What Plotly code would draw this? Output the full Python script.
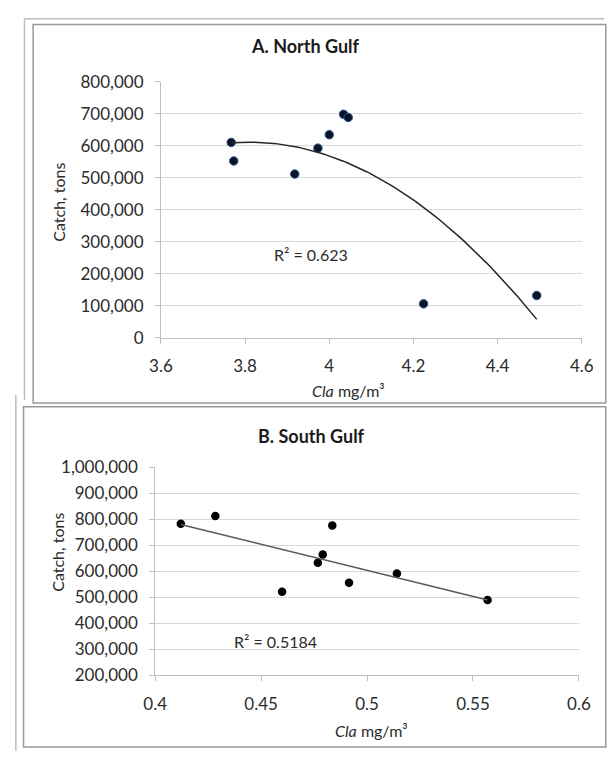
import numpy as np
import plotly.graph_objects as go

W, H = 613, 761

# ---- data ----
north_cla = [3.767, 3.773, 3.918, 3.973, 4.000, 4.034, 4.045, 4.224, 4.493]
north_catch = [611000, 553000, 512000, 593000, 635000, 699000, 689000, 106000, 132000]
north_r2 = "R² = 0.623"

south_cla = [0.4121, 0.4284, 0.4599, 0.4768, 0.4791, 0.4836, 0.4915, 0.5141, 0.5569]
south_catch = [782000, 812000, 521000, 632000, 664000, 775000, 555000, 591000, 489000]
south_r2 = "R² = 0.5184"

north_xticks = [3.6, 3.8, 4.0, 4.2, 4.4, 4.6]
south_xticks = [0.4, 0.45, 0.5, 0.55, 0.6]

FONT = "Lato"
TXT = "#2b2b2b"


def px(x):
    return x / W


def py(y):
    return 1 - y / H


fig = go.Figure()

# North Gulf points and 2nd-order trend
fig.add_trace(go.Scatter(
    x=north_cla, y=north_catch, mode="markers",
    marker=dict(size=8.5, color="#0b1426", line=dict(color="#2e5597", width=1)),
    xaxis="x", yaxis="y", showlegend=False))
cn = np.polyfit(north_cla, north_catch, 2)
xn = np.linspace(min(north_cla), max(north_cla), 80)
fig.add_trace(go.Scatter(
    x=xn, y=np.polyval(cn, xn), mode="lines",
    line=dict(color="#262626", width=1.5), xaxis="x", yaxis="y", showlegend=False))

# South Gulf points and linear trend
fig.add_trace(go.Scatter(
    x=south_cla, y=south_catch, mode="markers",
    marker=dict(size=8.5, color="#000000"),
    xaxis="x2", yaxis="y2", showlegend=False))
cs = np.polyfit(south_cla, south_catch, 1)
xs = np.array([min(south_cla), max(south_cla)])
fig.add_trace(go.Scatter(
    x=xs, y=np.polyval(cs, xs), mode="lines",
    line=dict(color="#595959", width=1.5), xaxis="x2", yaxis="y2", showlegend=False))

axis_common = dict(
    showline=True, linecolor="#bfbfbf", linewidth=1,
    ticks="outside", ticklen=5, tickcolor="#bfbfbf",
    tickfont=dict(family=FONT, size=17, color=TXT),
    zeroline=False, ticklabelstandoff=8,
)

fig.update_layout(
    width=W, height=H,
    margin=dict(l=0, r=0, t=0, b=0),
    paper_bgcolor="white", plot_bgcolor="white",
    font=dict(family=FONT, color=TXT),
    xaxis=dict(domain=[px(155), px(593)], range=[3.6, 4.6], tickvals=north_xticks,
               showgrid=False, anchor="y", **axis_common),
    yaxis=dict(domain=[py(336), py(73)], range=[0, 800000], dtick=100000,
               tickformat=",", showgrid=True, gridcolor="#d9d9d9", gridwidth=1,
               anchor="x", **axis_common),
    xaxis2=dict(domain=[px(149), px(590)], range=[0.4, 0.6], tickvals=south_xticks,
                showgrid=False, anchor="y2", **axis_common),
    yaxis2=dict(domain=[py(683), py(469)], range=[200000, 1000000], dtick=100000,
                tickformat=",", showgrid=True, gridcolor="#d9d9d9", gridwidth=1,
                anchor="x2", **axis_common),
)

ann = []


def add_text(text, x, y, size, bold=False, angle=0):
    ann.append(dict(text=f"<b>{text}</b>" if bold else text, x=px(x), y=py(y),
                    xref="paper", yref="paper", showarrow=False,
                    xanchor="center", yanchor="middle", textangle=angle,
                    font=dict(family=FONT, size=size, color="#1a1a1a" if bold else TXT)))


add_text("A. North Gulf", 305, 36, 18, bold=True)
add_text("B. South Gulf", 312, 437, 18, bold=True)
add_text("Catch, tons", 48, 197, 16, angle=-90)
add_text("Catch, tons", 47, 557, 16, angle=-90)
add_text("<i>Cla</i> mg/m³", 350, 390, 16)
add_text("<i>Cla</i> mg/m³", 374, 740, 16)
add_text(north_r2, 311, 250, 16)
add_text(south_r2, 274, 648, 16)
fig.update_layout(annotations=ann)

shapes = []


def rect(x0, y0, x1, y1, color="#a6a6a6", width=1.5):
    shapes.append(dict(type="rect", xref="paper", yref="paper",
                       x0=px(x0), x1=px(x1), y0=py(y1), y1=py(y0),
                       line=dict(color=color, width=width), fillcolor="rgba(0,0,0,0)"))


def line(x0, y0, x1, y1, color="#bdbdbd", width=1.5):
    shapes.append(dict(type="line", xref="paper", yref="paper",
                       x0=px(x0), x1=px(x1), y0=py(y0), y1=py(y1),
                       line=dict(color=color, width=width)))


# outer frame lines
line(13, 8, 616, 8)
line(13, 8, 13, 400)
line(4, 395, 4, 761)
# panel boxes
rect(22, 14, 618, 403, color="#999999", width=1.5)
rect(12, 407, 618, 757, color="#999999", width=1.5)
fig.update_layout(shapes=shapes)

fig.write_html(
    "out.html",
    config={"displayModeBar": False},
    post_script="document.body.style.margin='0px';document.body.style.overflow='hidden';",
)
